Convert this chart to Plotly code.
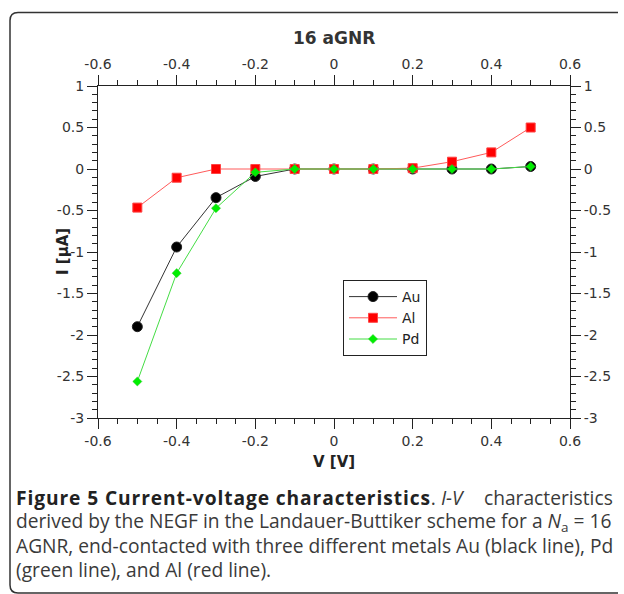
import plotly.graph_objects as go

# ---- data ----
voltage = [-0.5, -0.4, -0.3, -0.2, -0.1, 0.0, 0.1, 0.2, 0.3, 0.4, 0.5]
current_au = [-1.90, -0.94, -0.345, -0.09, 0.0, 0.0, 0.0, 0.0, 0.0, 0.0, 0.03]
current_al = [-0.465, -0.105, 0.0, 0.0, 0.0, 0.0, 0.0, 0.01, 0.088, 0.20, 0.50]
current_pd = [-2.56, -1.255, -0.472, -0.04, 0.0, 0.0, 0.0, 0.0, 0.0, 0.0, 0.03]

x_tickvals = [-0.6, -0.4, -0.2, 0.0, 0.2, 0.4, 0.6]
x_ticktext = ["-0.6", "-0.4", "-0.2", "0", "0.2", "0.4", "0.6"]
y_tickvals = [1, 0.5, 0, -0.5, -1, -1.5, -2, -2.5, -3]
y_ticktext = ["1", "0.5", "0", "-0.5", "-1", "-1.5", "-2", "-2.5", "-3"]

# ---- layout geometry (pixels) ----
W, H = 624, 594
L, R, T, B = 98, 570, 86, 418
PW, PH = R - L, B - T


def px(x):
    return (x - L) / PW


def py(y):
    return (B - y) / PH


tickfont = dict(family="DejaVu Sans", size=14, color="#333333")
axis_common = dict(
    showline=True, linecolor="#222222", linewidth=1,
    showgrid=False, zeroline=False,
    ticks="outside", ticklen=10, tickwidth=1, tickcolor="#222222",
    tickfont=tickfont,
)

fig = go.Figure()
fig.add_trace(go.Scatter(
    x=voltage, y=current_au, name="Au", mode="lines+markers",
    line=dict(color="#333333", width=1),
    marker=dict(symbol="circle", size=10, color="#000000",
                line=dict(color="#222222", width=1)),
))
fig.add_trace(go.Scatter(
    x=voltage, y=current_al, name="Al", mode="lines+markers",
    line=dict(color="#ff5a5a", width=1),
    marker=dict(symbol="square", size=9, color="#ff0000",
                line=dict(color="#ff4444", width=1)),
))
fig.add_trace(go.Scatter(
    x=voltage, y=current_pd, name="Pd", mode="lines+markers",
    line=dict(color="#44dd44", width=1),
    marker=dict(symbol="diamond", size=7, color="#00ee00",
                line=dict(color="#22cc22", width=0.5)),
))
# invisible trace to activate top / right axes
fig.add_trace(go.Scatter(
    x=[voltage[0]], y=[current_au[0]], xaxis="x2", yaxis="y2",
    mode="markers", marker=dict(opacity=0), showlegend=False, hoverinfo="skip",
))

minor_x = dict(dtick=0.05, tick0=0, ticks="outside", ticklen=5,
               tickcolor="#222222", showgrid=False)
minor_y = dict(dtick=0.1, tick0=0, ticks="outside", ticklen=5,
               tickcolor="#222222", showgrid=False)

fig.update_layout(
    width=W, height=H,
    margin=dict(l=L, r=W - R, t=T, b=H - B, pad=0),
    paper_bgcolor="white", plot_bgcolor="white",
    showlegend=True,
    legend=dict(
        x=px(343), y=py(280), xanchor="left", yanchor="top",
        bordercolor="#222222", borderwidth=1, bgcolor="white",
        font=dict(family="DejaVu Sans", size=14, color="#222222"),
        itemwidth=48, entrywidth=92, entrywidthmode="pixels",
    ),
    xaxis=dict(range=[-0.6, 0.6], tickvals=x_tickvals, ticktext=x_ticktext,
               minor=minor_x, **axis_common),
    xaxis2=dict(range=[-0.6, 0.6], overlaying="x", side="top",
                tickvals=x_tickvals, ticktext=x_ticktext,
                minor=minor_x, **axis_common),
    yaxis=dict(range=[-3, 1], tickvals=y_tickvals, ticktext=y_ticktext,
               minor=minor_y, **axis_common),
    yaxis2=dict(range=[-3, 1], overlaying="y", side="right",
                tickvals=y_tickvals, ticktext=y_ticktext,
                minor=minor_y, **axis_common),
)

# rounded frame (left part; top and bottom edges run towards the right edge)
r = 8
x0, y0, x1, y1 = 10, 12.5, 618, 593
path = (f"M {px(x1)},{py(y0)} L {px(x0 + r)},{py(y0)} "
        f"Q {px(x0)},{py(y0)} {px(x0)},{py(y0 + r)} "
        f"L {px(x0)},{py(y1 - r)} "
        f"Q {px(x0)},{py(y1)} {px(x0 + r)},{py(y1)} "
        f"L {px(x1)},{py(y1)}")
fig.add_shape(type="path", path=path, xref="paper", yref="paper",
              line=dict(color="#333333", width=1.5), layer="above")

# titles
fig.add_annotation(x=px(334), y=py(38), xref="paper", yref="paper",
                   text="<b>16 aGNR</b>", showarrow=False,
                   font=dict(family="DejaVu Sans", size=17, color="#333333"),
                   xanchor="center", yanchor="middle")
fig.add_annotation(x=px(334), y=py(462), xref="paper", yref="paper",
                   text="<b>V [V]</b>", showarrow=False,
                   font=dict(family="DejaVu Sans", size=15, color="#222222"),
                   xanchor="center", yanchor="middle")
fig.add_annotation(x=px(63), y=py(252), xref="paper", yref="paper",
                   text="<b>I [μA]</b>", showarrow=False, textangle=-90,
                   font=dict(family="DejaVu Sans", size=15, color="#222222"),
                   xanchor="center", yanchor="middle")

# caption (justified look: first part left-anchored, last word right-anchored)
cap_font = dict(family="Open Sans", size=19.2, color="#3a3a3a")
cap_left_x, cap_right_x = 15, 614
cap_lines = [
    (497,
     "<b><span style=\"color:#222222;letter-spacing:0.9px\">Figure 5 Current-voltage characteristics</span></b>. <i>I-V</i>",
     "characteristics"),
    (521,
     "derived by the NEGF in the Landauer-Buttiker scheme for a <i>N</i><sub>a</sub> = 16",
     ""),
    (545,
     "AGNR, end-contacted with three different metals Au (black line),",
     "Pd"),
    (569, "(green line), and Al (red line).", ""),
]
for yy, left_txt, right_txt in cap_lines:
    fig.add_annotation(x=px(cap_left_x), y=py(yy), xref="paper", yref="paper",
                       text=left_txt, showarrow=False, font=cap_font,
                       xanchor="left", yanchor="middle", align="left",
                       borderpad=0)
    if right_txt:
        fig.add_annotation(x=px(cap_right_x), y=py(yy), xref="paper", yref="paper",
                           text=right_txt, showarrow=False, font=cap_font,
                           xanchor="right", yanchor="middle", borderpad=0)

fig.write_html("out.html",
               config={"displayModeBar": False},
               post_script="document.body.style.margin='0';document.body.style.overflow='hidden';")
